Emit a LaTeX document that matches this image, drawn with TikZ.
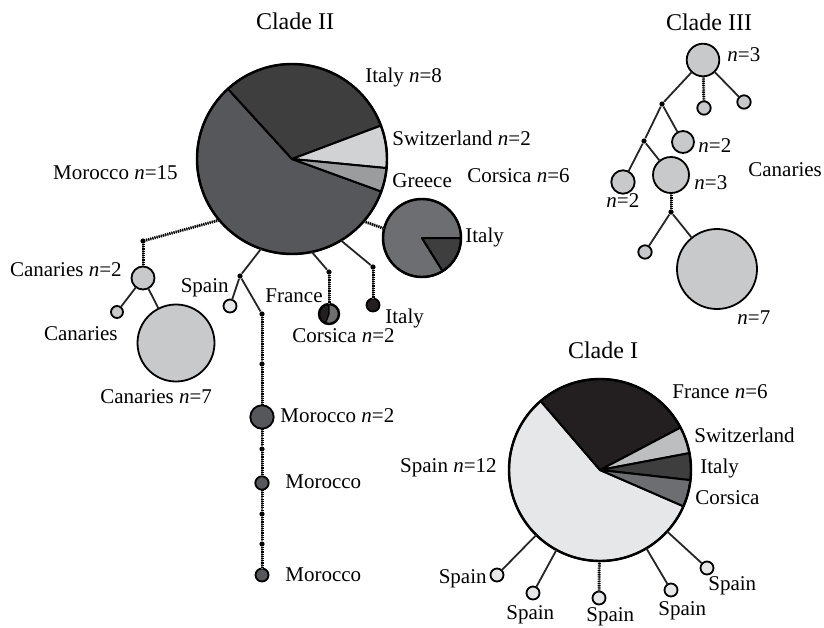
\documentclass[tikz,border=0pt]{standalone}
\usepackage{fontspec}
\setmainfont{Liberation Serif}
\usepackage{xcolor}
\definecolor{marrocos}{HTML}{56575A}
\definecolor{italia}{HTML}{3E3E3F}
\definecolor{suica}{HTML}{D1D2D4}
\definecolor{suicaI}{HTML}{BCBEC0}
\definecolor{grecia}{HTML}{9B9C9E}
\definecolor{corsega}{HTML}{6D6E71}
\definecolor{canarias}{HTML}{C8C9CB}
\definecolor{espanha}{HTML}{E6E7E8}
\definecolor{franca}{HTML}{231F20}
\usetikzlibrary{positioning}

\begin{document}
\begin{tikzpicture}[
    x=0.5pt, y=-0.5pt,
    hap/.style={circle, draw=black, line width=0.9pt, inner sep=0pt, outer sep=0pt},
    pieout/.style={circle, draw=black, line width=1.2pt, inner sep=0pt, outer sep=0pt},
    slice/.style={draw=black, line width=1pt, line join=round},
    dot/.style={circle, fill=black, inner sep=0pt, minimum size=2.6pt},
    link/.style={draw=black!85, line width=0.9pt},
    steps/.style={draw=black, line width=1.5pt, dash pattern=on 0.55pt off 0.55pt,
                  preaction={draw, black!55, line width=0.6pt, solid}},
    lbl/.style={font=\fontsize{10.5}{12}\selectfont, inner sep=0pt},
    lblw/.style={lbl, anchor=west},
    lble/.style={lbl, anchor=east},
    ttl/.style={font=\fontsize{12}{14}\selectfont, inner sep=0pt}
  ]
  \useasboundingbox (0,0) rectangle (824,627);

  % Clade II
  \node[ttl] at (295,21) {Clade II};

  \begin{scope}[shift={(292,159)}, yscale=-1]
    \foreach \a/\b/\c in {132.4/340/marrocos, 20.6/132.4/italia,
                          -5.5/20.6/suica, -20/-5.5/grecia}
      \filldraw[slice, fill=\c] (0,0) -- (\a:95) arc[start angle=\a, end angle=\b, radius=95] -- cycle;
  \end{scope}
  \node[pieout, minimum size=95pt] (P2) at (292,159) {};

  \begin{scope}[shift={(422,238)}, yscale=-1]
    \foreach \a/\b/\c in {0/302/corsega, -58/0/italia}
      \filldraw[slice, fill=\c] (0,0) -- (\a:39) arc[start angle=\a, end angle=\b, radius=39] -- cycle;
  \end{scope}
  \node[pieout, minimum size=39pt] (PC) at (422,238) {};

  \begin{scope}[shift={(329,314)}, yscale=-1]
    \foreach \a/\b/\c in {90/250/franca, -110/90/corsega}
      \filldraw[draw=black, line width=0.6pt, fill=\c] (0,0) -- (\a:10) arc[start angle=\a, end angle=\b, radius=10] -- cycle;
  \end{scope}
  \node[hap, line width=1.2pt, minimum size=10pt] (FC) at (329,314) {};

  \node[dot] (J1) at (143,241) {};
  \node[dot] (J2) at (240,276) {};
  \node[dot] (J3) at (262,314) {};
  \node[dot] (J4) at (329,272) {};
  \node[dot] (J5) at (373,267) {};
  \node[dot] (d1) at (262,364) {};
  \node[dot] (d2) at (262,449) {};
  \node[dot] (d3) at (262,514) {};
  \node[dot] (d4) at (262,544) {};

  \node[hap, fill=canarias, minimum size=11.5pt] (C2) at (143,278) {};
  \node[hap, fill=canarias, minimum size=6pt]    (C1) at (117,312) {};
  \node[hap, fill=canarias, minimum size=38.5pt] (C7) at (176,343) {};
  \node[hap, fill=espanha, minimum size=6.5pt]   (S)  at (230,306) {};
  \node[hap, fill=marrocos, minimum size=11.7pt] (M2) at (262,417) {};
  \node[hap, fill=marrocos, minimum size=6.7pt]  (Ma) at (262,483) {};
  \node[hap, fill=marrocos, minimum size=6.5pt]  (Mb) at (262,575) {};
  \node[hap, fill=franca, minimum size=6.5pt]    (IT) at (373,305) {};

  \draw[steps] (P2.220) -- (J1);
  \draw[steps] (J1) -- (C2);
  \draw[link] (C2) -- (C1);
  \draw[link] (C2) -- (C7);
  \draw[link] (P2.251) -- (J2);
  \draw[link] (J2) -- (S);
  \draw[link] (J2) -- (J3);
  \foreach \a/\b in {J3/d1, d1/M2, M2/d2, d2/Ma, Ma/d3, d3/d4, d4/Mb}
    \draw[steps] (\a) -- (\b);
  \draw[link] (P2.282) -- (J4);
  \draw[steps] (J4) -- (FC);
  \draw[link] (P2.301) -- (J5);
  \draw[steps] (J5) -- (IT);
  \draw[steps] (P2.319) -- (PC.166);

  \node[lblw] at (365,77)  {Italy \textit{n}=8};
  \node[lblw] at (392,138) {Switzerland \textit{n}=2};
  \node[lblw] at (392,181) {Greece};
  \node[lble] at (178,173) {Morocco \textit{n}=15};
  \node[lblw] at (467,176) {Corsica \textit{n}=6};
  \node[lblw] at (465,237) {Italy};
  \node[lble] at (122,270) {Canaries \textit{n}=2};
  \node[lble] at (118,334) {Canaries};
  \node[lblw] at (100,397) {Canaries \textit{n}=7};
  \node[lble] at (229,288) {Spain};
  \node[lble] at (323,296) {France};
  \node[lblw] at (292,336) {Corsica \textit{n}=2};
  \node[lblw] at (385,318) {Italy};
  \node[lblw] at (280,416) {Morocco \textit{n}=2};
  \node[lblw] at (285,482) {Morocco};
  \node[lblw] at (285,575) {Morocco};

  % Clade III
  \node[ttl] at (709,22) {Clade III};

  \node[hap, fill=canarias, minimum size=16.3pt] (R3)  at (703,60)  {};
  \node[hap, fill=canarias, minimum size=6.7pt]  (T1)  at (704,108) {};
  \node[hap, fill=canarias, minimum size=6.7pt]  (T2)  at (744,102) {};
  \node[hap, fill=canarias, minimum size=11pt]   (N2a) at (683,142) {};
  \node[hap, fill=canarias, minimum size=11.7pt] (N2b) at (623,182) {};
  \node[hap, fill=canarias, minimum size=18pt]   (N3)  at (671,175) {};
  \node[hap, fill=canarias, minimum size=6.7pt]  (T3)  at (645,252) {};
  \node[hap, fill=canarias, minimum size=40pt]   (N7)  at (717,269) {};
  \node[dot] (A) at (662,104) {};
  \node[dot] (B) at (644,141) {};
  \node[dot] (C) at (671,212) {};

  \draw[steps] (R3) -- (T1);
  \foreach \a/\b in {R3/T2, R3/A, A/N2a, A/B, B/N2b, B/N3, C/T3, C/N7}
    \draw[link] (\a) -- (\b);
  \draw[steps] (N3) -- (C);

  \node[lblw] at (727,55)  {\textit{n}=3};
  \node[lblw] at (698,146) {\textit{n}=2};
  \node[lblw] at (606,201) {\textit{n}=2};
  \node[lblw] at (694,183) {\textit{n}=3};
  \node[lblw] at (748,170) {Canaries};
  \node[lblw] at (737,318) {\textit{n}=7};

  % Clade I
  \node[ttl] at (603,350) {Clade I};

  \begin{scope}[shift={(600,470)}, yscale=-1]
    \foreach \a/\b/\c in {130.7/336.5/espanha, 27.8/130.7/franca, 10.7/27.8/suicaI,
                          -6.4/10.7/italia, -23.5/-6.4/corsega}
      \filldraw[slice, fill=\c] (0,0) -- (\a:91) arc[start angle=\a, end angle=\b, radius=91] -- cycle;
  \end{scope}
  \node[pieout, minimum size=91pt] (P1) at (600,470) {};

  \node[hap, fill=espanha, minimum size=6.5pt] (s1) at (497,575) {};
  \node[hap, fill=espanha, minimum size=6.5pt] (s2) at (533,593) {};
  \node[hap, fill=espanha, minimum size=6.5pt] (s3) at (599,598) {};
  \node[hap, fill=espanha, minimum size=6.5pt] (s4) at (671,590) {};
  \node[hap, fill=espanha, minimum size=6.5pt] (s5) at (707,568) {};

  \foreach \n in {s1,s2,s4,s5}
    \draw[link] (P1) -- (\n);
  \draw[steps] (P1) -- (s3);

  \node[lblw] at (672,392) {France \textit{n}=6};
  \node[lblw] at (694,435) {Switzerland};
  \node[lblw] at (700,468) {Italy};
  \node[lblw] at (695,498) {Corsica};
  \node[lble] at (497,468) {Spain \textit{n}=12};
  \node[lble] at (487,579) {Spain};
  \node[lblw] at (506,615) {Spain};
  \node[lblw] at (586,617) {Spain};
  \node[lblw] at (658,611) {Spain};
  \node[lblw] at (708,586) {Spain};

\end{tikzpicture}
\end{document}
